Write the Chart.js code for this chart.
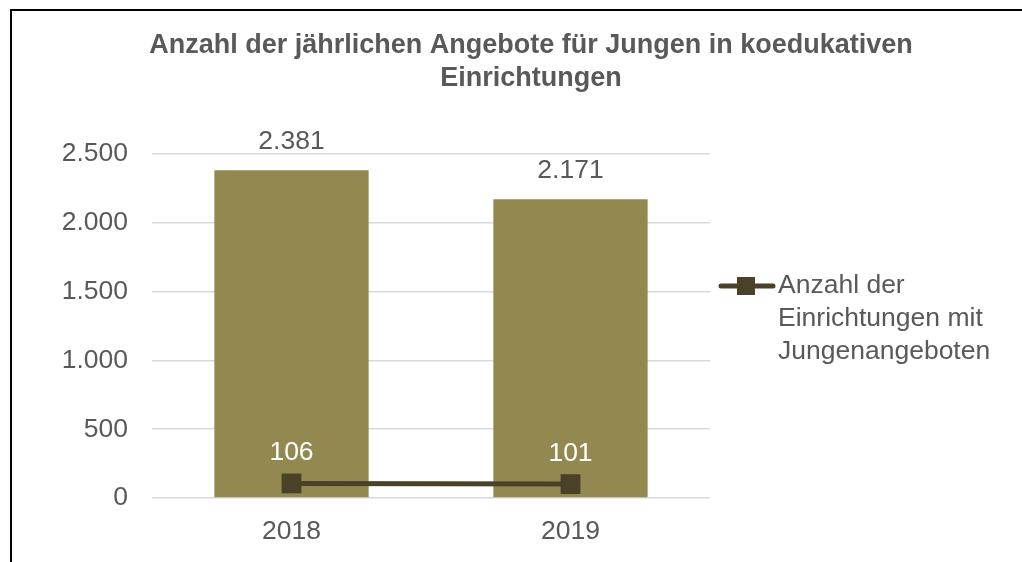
<!DOCTYPE html>
<html><head><meta charset="utf-8">
<script src="https://cdn.jsdelivr.net/npm/chart.js@4"></script>
<style>
html,body{margin:0;padding:0;background:#fff;overflow:hidden}
#frame{position:absolute;left:10px;top:9px;width:1100px;height:600px;border:2px solid #000;box-sizing:border-box}
#wrap{position:absolute;left:0;top:0;width:1022px;height:562px}
</style></head>
<body>
<div id="frame"></div>
<div id="wrap"><canvas id="c" width="1022" height="562"></canvas></div>
<script>
const titleLines = ["Anzahl der jährlichen Angebote für Jungen in koedukativen", "Einrichtungen"];
const categories = ["2018", "2019"];
const angebote = [2381, 2171];
const einrichtungen = [106, 101];
const yTicks = [0, 500, 1000, 1500, 2000, 2500];
const legendLines = ["Anzahl der", "Einrichtungen mit", "Jungenangeboten"];

const FONT = "'Liberation Sans', Arial, sans-serif";
const GRAY = "#595959";
const BAR = "#938950";
const LINE = "#4a4228";
const FS = 26.5;

function fmt(v){ return String(v).replace(/\B(?=(\d{3})+(?!\d))/g, "."); }

const overlay = {
  id: 'overlay',
  afterDatasetsDraw(chart){
    const ctx = chart.ctx;
    ctx.save();
    ctx.font = FS + "px " + FONT;
    ctx.textAlign = "center";
    ctx.textBaseline = "alphabetic";
    // bar labels (dataset index 1)
    chart.getDatasetMeta(1).data.forEach((el, i) => {
      ctx.fillStyle = GRAY;
      ctx.fillText(fmt(angebote[i]), el.x, el.y - 21);
    });
    // line labels (dataset index 0)
    chart.getDatasetMeta(0).data.forEach((el, i) => {
      ctx.fillStyle = "#ffffff";
      ctx.fillText(fmt(einrichtungen[i]), el.x, el.y - 23);
    });
    // title
    ctx.font = "bold 27px " + FONT;
    ctx.fillStyle = GRAY;
    ctx.textBaseline = "middle";
    ctx.fillText(titleLines[0], 531, 46);
    ctx.fillText(titleLines[1], 531, 79);
    // legend
    ctx.strokeStyle = LINE;
    ctx.lineWidth = 5;
    ctx.lineCap = "round";
    ctx.beginPath(); ctx.moveTo(721, 286); ctx.lineTo(773, 286); ctx.stroke();
    ctx.fillStyle = LINE;
    ctx.fillRect(737, 277, 18, 18);
    ctx.font = FS + "px " + FONT;
    ctx.fillStyle = GRAY;
    ctx.textAlign = "left";
    legendLines.forEach((t, i) => ctx.fillText(t, 778, 286 + i * 33));
    ctx.restore();
  }
};

new Chart(document.getElementById('c'), {
  data: {
    labels: categories,
    datasets: [
      { type: 'line', label: 'Anzahl der Einrichtungen mit Jungenangeboten', data: einrichtungen,
        borderColor: LINE, backgroundColor: LINE, borderWidth: 5,
        pointStyle: 'rect', pointRadius: 14, pointHoverRadius: 14, pointBorderWidth: 0, order: 0 },
      { type: 'bar', label: 'Angebote', data: angebote, backgroundColor: BAR,
        barPercentage: 0.553, categoryPercentage: 1.0, order: 1 }
    ]
  },
  options: {
    responsive: false, animation: false,
    layout: { padding: { left: 0, right: 312, top: 154, bottom: 0 } },
    plugins: { legend: { display: false }, title: { display: false }, tooltip: { enabled: false } },
    scales: {
      x: {
        grid: { display: false, drawTicks: false },
        border: { display: false },
        ticks: { color: GRAY, font: { family: FONT, size: FS }, padding: 18 },
        afterFit(s){ s.height = 64; }
      },
      y: {
        min: 0, max: 2500,
        afterBuildTicks(s){ s.ticks = yTicks.map(v => ({ value: v })); },
        grid: { color: '#d9d9d9', lineWidth: 1.5, drawTicks: false },
        border: { display: false },
        ticks: { color: GRAY, font: { family: FONT, size: FS }, padding: 24, callback: v => fmt(v) },
        afterFit(s){ s.width = 152; }
      }
    }
  },
  plugins: [overlay]
});
</script>
</body></html>
